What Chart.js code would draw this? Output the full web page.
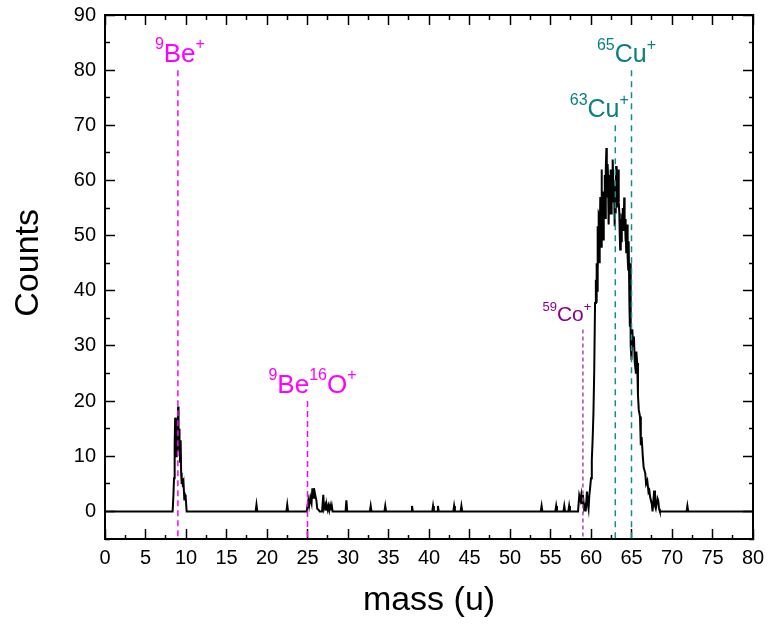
<!DOCTYPE html>
<html>
<head>
<meta charset="utf-8">
<script src="https://cdn.jsdelivr.net/npm/chart.js@4.4.1/dist/chart.umd.min.js"></script>
<style>
  html, body { margin: 0; padding: 0; background: #fff; }
  canvas { display: block; }
</style>
</head>
<body>
<canvas id="spectrum" width="771" height="628"></canvas>
<script>
// Mass spectrum: counts vs mass (u), with dashed markers for identified ions.

// spectrum samples
const massValues = [
  0, 8.35, 8.45, 8.52, 8.6, 8.66, 8.72, 8.78, 8.85, 8.92, 8.97, 9.02, 9.08, 9.14, 9.2, 9.27, 9.34, 9.4, 9.47, 9.55, 9.62, 9.7, 9.8, 9.88, 9.96, 10.08,
  18.6, 18.7, 18.8, 22.4, 22.5, 22.6,
  24.9, 25.1, 25.2, 25.35, 25.5, 25.6, 25.7, 25.8, 25.95, 26.1, 26.2, 26.35, 26.5, 26.8, 26.95, 27.05, 27.2, 27.3, 27.4, 27.5, 27.6, 27.7, 27.8, 27.9, 28.0, 28.1,
  29.7, 29.8, 29.9, 32.7, 32.8, 32.9, 34.5, 34.6, 34.7, 37.8, 37.9, 38.0,
  40.4, 40.5, 40.6, 41.0, 41.1, 41.2, 43.0, 43.1, 43.2, 43.9, 44.0, 44.1,
  53.8, 53.9, 54.0, 55.6, 55.7, 55.8, 56.6, 56.7, 56.8, 57.2, 57.3, 57.4,
  58.4, 58.55, 58.7, 58.8, 58.9, 59.0, 59.15, 59.26, 59.35, 59.5, 59.6, 59.7, 59.8, 59.9, 60.0, 60.1, 60.2, 60.3, 60.4, 60.5,
  60.6, 60.65, 60.7, 60.75, 60.8, 60.85, 60.9, 60.95, 61.0, 61.05,
  61.1, 61.15, 61.2, 61.25, 61.3, 61.35, 61.4, 61.45, 61.5, 61.55,
  61.6, 61.65, 61.7, 61.75, 61.8, 61.85, 61.9, 61.95, 62.0, 62.05,
  62.1, 62.15, 62.2, 62.25, 62.3, 62.35, 62.4, 62.45, 62.5, 62.55,
  62.6, 62.65, 62.7, 62.75, 62.8, 62.85, 62.9, 62.95, 63.0, 63.05,
  63.1, 63.15, 63.2, 63.25, 63.3, 63.35, 63.4, 63.45, 63.5, 63.55,
  63.6, 63.65, 63.7, 63.75, 63.8, 63.85, 63.9, 63.95, 64.0, 64.05,
  64.1, 64.15, 64.2, 64.25, 64.3, 64.35, 64.4, 64.45, 64.5, 64.55,
  64.6, 64.65,
  64.75, 64.8, 64.85, 64.9, 65.0, 65.1, 65.2, 65.3, 65.4, 65.55, 65.6, 65.7, 65.8, 65.9, 66.05, 66.15, 66.25, 66.4, 66.5, 66.7, 66.8,
  66.95, 67.1, 67.2, 67.3, 67.5, 67.6, 67.8, 67.9, 68.0, 68.2, 68.3, 68.4, 68.5,
  71.8, 71.9, 72.0, 80
];
const countValues = [
  0, 0, 3, 6, 12, 17, 16.5, 10, 17, 11, 14, 19, 12, 15, 13, 9, 12.9, 7, 5, 6, 4.4, 5, 2, 3, 2.6, 0,
  0, 1.2, 0, 0, 1.2, 0,
  0, 2, 1, 2.5, 1.5, 4.2, 2.5, 4.2, 3, 2, 0.5, 0.3, 0, 0, 3, 0.5, 1.2, 0.3, 1, 0.3, 1, 0.2, 1, 0.2, 1, 0,
  0, 2, 0, 0, 1, 0, 0, 1, 0, 0, 1, 0,
  0, 1, 0, 0, 1, 0, 0, 1, 0, 0, 1, 0,
  0, 1, 0, 0, 1, 0, 0, 1, 0, 0, 1, 0,
  0, 2.9, 2, 3, 1.5, 3, 0.5, 1, 0, 3.6, 1.5, 0.5, 3, 4.4, 6, 9.3, 13, 17.8, 25.6, 37.8,
  42, 38, 45, 40, 51.7, 44, 47, 54, 53.8, 45,
  49.9, 57, 55, 48, 62, 56, 52, 58, 49.3, 54,
  58, 55.3, 61, 60, 53, 62, 65.9, 59, 57.1, 63,
  61, 55, 52, 58, 60, 54, 58.4, 62, 54, 57,
  61, 58, 63.8, 60, 56, 59, 51.7, 55, 58, 54,
  62.6, 59, 57, 55.3, 60, 57, 62, 56, 54, 50,
  47.5, 52, 53, 49, 51.1, 54, 52, 55, 51, 53,
  56.9, 52, 53, 49, 51.1, 47, 48, 52, 51.7, 46,
  43.8, 49,
  37, 33.5, 45, 30, 27.5, 33, 30, 31.7, 27, 25, 29, 26.9, 21, 18.4, 17.2, 12, 13.5, 9.9, 8, 6.9, 5,
  5.6, 3.5, 3.8, 2.6, 1.4, 0, 3.8, 1, 0.5, 2.4, 2, 0.5, 0,
  0, 1, 0, 0
];

// ion markers
const ionMass = [9, 25, 59, 63, 65];
const ionTop = [80, 20, 33, 70, 80];
const ionLabels = [
  [['sup', '9'], ['main', 'Be'], ['sup', '+']],
  [['sup', '9'], ['main', 'Be'], ['sup', '16'], ['main', 'O'], ['sup', '+']],
  [['sup', '59'], ['main', 'Co'], ['sup', '+']],
  [['sup', '63'], ['main', 'Cu'], ['sup', '+']],
  [['sup', '65'], ['main', 'Cu'], ['sup', '+']]
];

// axis ranges
const xMin = 0, xMax = 80, xStep = 2.5;
const yMin = -5, yMax = 90, yStep = 5;

const FONT = "'Liberation Sans', Arial, sans-serif";
const ionStyle = [
  { text: '#ff00ff', line: '#ff00ff', dash: [6, 4], size: 26, dx: 2 },
  { text: '#ff00ff', line: '#ff00ff', dash: [6, 4], size: 26, dx: 5 },
  { text: '#8b008b', line: '#a64aa6', dash: [4, 3], size: 21, dx: -16 },
  { text: '#0a8080', line: '#178a8a', dash: [6, 5], size: 25, dx: -16 },
  { text: '#0a8080', line: '#178a8a', dash: [6, 5], size: 25, dx: -5 }
];

const spectrum = massValues.map((m, i) => ({ x: m, y: countValues[i] }));

const markerSets = ionMass.map((m, i) => ({
  data: [{ x: m, y: ionTop[i] }, { x: m, y: yMin }],
  showLine: true,
  borderColor: ionStyle[i].line,
  borderWidth: 1.5,
  borderDash: ionStyle[i].dash,
  pointRadius: 0,
  order: 1
}));

// draws the ion names with superscripts above each marker
const ionLabelPlugin = {
  id: 'ionLabels',
  afterDatasetsDraw(chart) {
    const ctx = chart.ctx;
    const xs = chart.scales.x, ys = chart.scales.y;
    ctx.save();
    ctx.textBaseline = 'alphabetic';
    ctx.textAlign = 'left';
    ionLabels.forEach((parts, i) => {
      const st = ionStyle[i];
      const supSize = Math.round(st.size * 0.62);
      const fontFor = kind => (kind === 'sup' ? supSize : st.size) + 'px ' + FONT;
      let total = 0;
      parts.forEach(([kind, txt]) => { ctx.font = fontFor(kind); total += ctx.measureText(txt).width; });
      let x = xs.getPixelForValue(ionMass[i]) + st.dx - total / 2;
      const base = ys.getPixelForValue(ionTop[i]) - 8;
      ctx.fillStyle = st.text;
      parts.forEach(([kind, txt]) => {
        ctx.font = fontFor(kind);
        ctx.fillText(txt, x, kind === 'sup' ? base - st.size * 0.5 : base);
        x += ctx.measureText(txt).width;
      });
    });
    ctx.restore();
  }
};

const TL = -10;
function tickGrid(innerStart) {
  // minor ticks are drawn half length using a dash pattern
  return {
    drawOnChartArea: false,
    drawTicks: true,
    tickLength: TL,
    tickColor: '#000',
    tickWidth: 1.5,
    tickBorderDash: c => (c.tick && c.tick.major) ? [] : (innerStart ? [5, 5] : [5, 20]),
    tickBorderDashOffset: c => (c.tick && c.tick.major) ? 0 : (innerStart ? 5 : 0)
  };
}
const isMajorX = v => Math.abs(v / 5 - Math.round(v / 5)) < 1e-6;
const isMajorY = v => Math.abs(v / 10 - Math.round(v / 10)) < 1e-6;
function markMajor(isMajor) {
  return scale => { scale.ticks.forEach(t => { t.major = isMajor(t.value); }); };
}
// fixed box sizes so the plot frame sits where the original has it
function fixSize(prop, size) {
  return s => {
    s[prop] = size;
    s.paddingLeft = 0; s.paddingRight = 0; s.paddingTop = 0; s.paddingBottom = 0;
  };
}
const border = { display: true, color: '#000', width: 2 };

new Chart(document.getElementById('spectrum'), {
  type: 'scatter',
  data: {
    datasets: [
      ...markerSets,
      {
        data: spectrum,
        showLine: true,
        borderColor: '#000',
        borderWidth: 2,
        pointRadius: 0,
        tension: 0,
        order: 2
      }
    ]
  },
  options: {
    responsive: false,
    animation: false,
    devicePixelRatio: 1,
    layout: { padding: 0 },
    plugins: { legend: { display: false }, tooltip: { enabled: false } },
    scales: {
      x: {
        type: 'linear', position: 'bottom', min: xMin, max: xMax,
        border,
        grid: tickGrid(false),
        afterBuildTicks: markMajor(isMajorX),
        ticks: {
          stepSize: xStep, color: '#000', padding: 17, maxRotation: 0, autoSkip: false,
          font: { family: FONT, size: 20 },
          callback: v => isMajorX(v) ? String(v) : ''
        },
        title: { display: true, text: 'mass (u)', color: '#000', font: { family: FONT, size: 34 }, padding: { top: 0, bottom: 7 } },
        afterFit: fixSize('height', 89)
      },
      x2: {
        type: 'linear', position: 'top', min: xMin, max: xMax,
        border,
        grid: tickGrid(true),
        afterBuildTicks: markMajor(isMajorX),
        ticks: { stepSize: xStep, display: false },
        afterFit: fixSize('height', 15)
      },
      y: {
        type: 'linear', position: 'left', min: yMin, max: yMax,
        border,
        grid: tickGrid(true),
        afterBuildTicks: markMajor(isMajorY),
        ticks: {
          stepSize: yStep, color: '#000', padding: 19, autoSkip: false,
          font: { family: FONT, size: 20 },
          callback: v => isMajorY(v) ? String(v) : ''
        },
        // leading spaces nudge the title up, as in the original
        title: { display: true, text: '   Counts', color: '#000', font: { family: FONT, size: 34 }, padding: { top: 8, bottom: 0 } },
        afterFit: fixSize('width', 105)
      },
      y2: {
        type: 'linear', position: 'right', min: yMin, max: yMax,
        border,
        grid: tickGrid(false),
        afterBuildTicks: markMajor(isMajorY),
        ticks: { stepSize: yStep, display: false },
        afterFit: fixSize('width', 18)
      }
    }
  },
  plugins: [ionLabelPlugin]
});
</script>
</body>
</html>
